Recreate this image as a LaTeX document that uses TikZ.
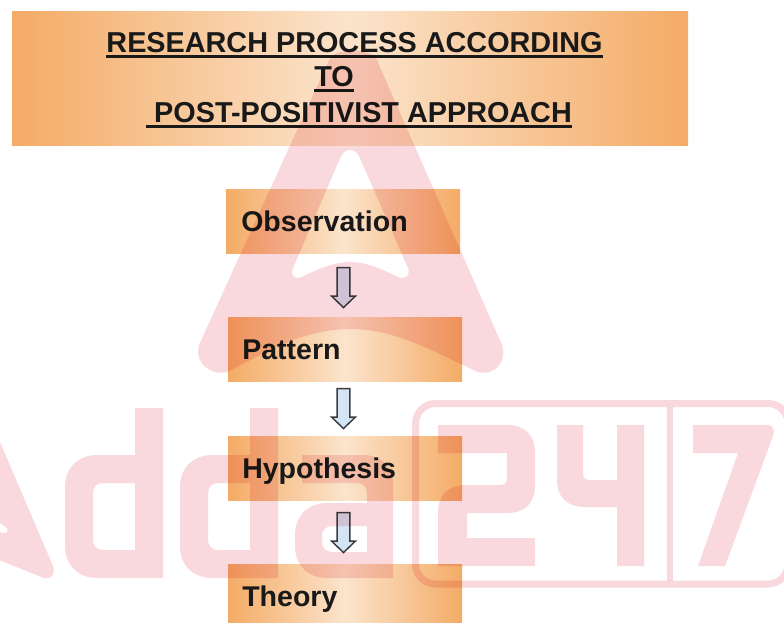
\documentclass[tikz,border=0pt]{standalone}
\usepackage{fontspec}
\setmainfont{Liberation Sans}
\usetikzlibrary{shapes.arrows}
\definecolor{edgeorange}{HTML}{F4AB66}
\definecolor{midorange}{HTML}{FBE4CC}
\definecolor{wmpink}{HTML}{F9D9DD}
\definecolor{arrowblue}{HTML}{D3E5F5}
\definecolor{arrowline}{HTML}{3C3C40}
\newcommand\ruled[1]{\setbox0\hbox{#1}\rlap{\rule[-4.4pt]{\wd0}{2.1pt}}\box0}
\tikzset{
  titlebox/.style={rectangle,inner sep=0pt,minimum width=507pt,minimum height=100.5pt,
    left color=edgeorange,right color=edgeorange,middle color=midorange},
  stagebox/.style={rectangle,inner sep=0pt,minimum width=175.5pt,minimum height=48pt,
    left color=edgeorange,right color=edgeorange,middle color=midorange},
  titletext/.style={anchor=base,inner sep=0pt,text=black!90,font=\fontsize{21.6pt}{24pt}\selectfont\bfseries},
  stagetext/.style={anchor=base west,inner sep=0pt,text=black!90,font=\fontsize{21.4pt}{24pt}\selectfont\bfseries},
  flowarrow/.style={single arrow,rotate=-90,inner xsep=0pt,inner ysep=4.2pt,draw=arrowline,line width=1.1pt,fill=arrowblue,
    minimum width=17pt,minimum height=30pt,single arrow head extend=4.1pt,single arrow tip angle=92},
  wmfill/.style={fill=wmpink,even odd rule},
}
\begin{document}
\begin{tikzpicture}[x=0.75pt,y=-0.75pt]
\useasboundingbox (0,0) rectangle (784,622);
\fill[white] (0,0) rectangle (784,622);
% title
\node[titlebox] (title) at (350,78) {};
\node[titletext] (t1) at (354.5,52) {\ruled{RESEARCH PROCESS ACCORDING}};
\node[titletext] (t2) at (334,86) {\ruled{TO}};
\node[titletext] (t3) at (359,122) {\ruled{\ POST-POSITIVIST APPROACH}};
% stages
\node[stagebox] (obs) at (343,221) {};
\node[stagebox] (pat) at (345,349) {};
\node[stagebox] (hyp) at (345,468) {};
\node[stagebox] (the) at (345,596) {};
\node[stagetext] (obst) at (241,231) {Observation};
\node[stagetext] (patt) at (242,359) {Pattern};
\node[stagetext] (hypt) at (242,478) {Hypothesis};
\node[stagetext] (thet) at (242,606) {Theory};
% arrows
\node[flowarrow] (a1) at (343.5,284.5) {};
\node[flowarrow] (a2) at (343.5,405.5) {};
\node[flowarrow] (a3) at (343.5,529.5) {};
% watermark
\begin{scope}[blend mode=multiply]
% big A
\fill[wmfill]
  (330,58) .. controls (338,48) and (367,48) .. (376,58)
  -- (502,345) .. controls (507,362) and (495,376) .. (478,372)
  .. controls (430,350) and (395,329) .. (350,329)
  .. controls (305,329) and (270,350) .. (227,372)
  .. controls (210,376) and (194,362) .. (199,345) -- cycle
  (341,156) .. controls (345,148) and (355,148) .. (359,156)
  -- (408,268) .. controls (411,276) and (405,280) .. (398,277)
  .. controls (380,268) and (365,262) .. (350,262)
  .. controls (335,262) and (320,268) .. (302,277)
  .. controls (295,280) and (290,276) .. (293,268) -- cycle;
% cut-off A at the left
\fill[wmfill]
  (-6,428) -- (53,566) .. controls (56,575) and (50,580) .. (44,578)
  -- (-6,558) -- cycle
  (-6,520) -- (5,526) .. controls (9,529) and (8,533) .. (4,533) -- (-6,531) -- cycle;
% d d
\foreach \dx in {0,115}{
\fill[wmfill,xshift=\dx*0.75pt]
  (163,408) -- (163,578) -- (97,578) .. controls (78,578) and (65,565) .. (65,546)
  -- (65,487) .. controls (65,468) and (78,455) .. (97,455) -- (135,455) -- (135,408) -- cycle
  (135,483) -- (103,483) .. controls (97,483) and (93,487) .. (93,493)
  -- (93,540) .. controls (93,546) and (97,550) .. (103,550) -- (135,550) -- cycle;
}
% a
\fill[wmfill]
  (302,455) -- (363,455) .. controls (381,455) and (393,467) .. (393,485)
  -- (393,578) -- (327,578) .. controls (308,578) and (295,565) .. (295,546)
  -- (295,535) .. controls (295,516) and (308,503) .. (327,503) -- (367,503)
  -- (367,493) .. controls (367,487) and (363,483) .. (357,483) -- (302,483) -- cycle
  (332,526) -- (367,526) -- (367,552) -- (332,552) .. controls (326,552) and (322,548) .. (322,542)
  -- (322,536) .. controls (322,530) and (326,526) .. (332,526) -- cycle;
% 2
\fill[wmfill]
  (438,425) -- (507,425) .. controls (525,425) and (535,435) .. (535,453)
  -- (535,485) .. controls (535,503) and (525,513) .. (507,513) -- (467,513)
  -- (467,538) -- (535,538) -- (535,566) -- (438,566) -- (438,513)
  .. controls (438,495) and (448,485) .. (466,485) -- (500,485)
  .. controls (505,485) and (507,483) .. (507,478) -- (507,453) -- (438,453) -- cycle;
% 4
\fill[wmfill]
  (557,425) -- (583,425) -- (583,473) .. controls (583,478) and (585,480) .. (590,480)
  -- (617,480) -- (617,425) -- (644,425) -- (644,566) -- (617,566) -- (617,507)
  -- (585,507) .. controls (567,507) and (557,497) .. (557,480) -- cycle;
% 7
\fill[wmfill]
  (693,425) -- (768,425) .. controls (773,425) and (775,430) .. (773,436)
  -- (725,566) -- (698,566) -- (738,453) -- (693,453) -- cycle;
% frame
\draw[wmpink,line width=5.25pt,rounded corners=15pt] (415.5,403.5) rectangle (788,584);
\fill[wmpink] (667,407) rectangle (673,580.5);
\end{scope}
\end{tikzpicture}
\end{document}
